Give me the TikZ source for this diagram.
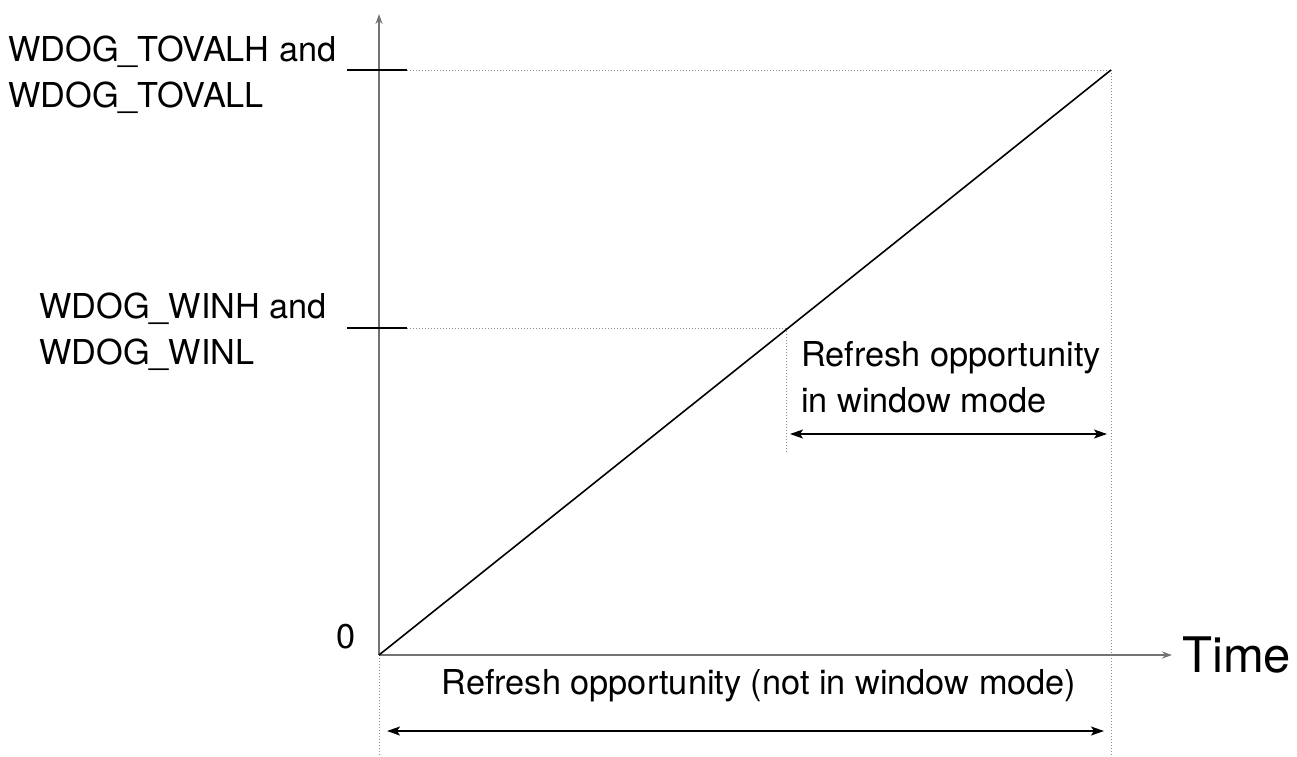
\documentclass[tikz,border=0pt]{standalone}
\usepackage{fontspec}
\setmainfont{TeX Gyre Heros}
\usetikzlibrary{arrows.meta}
\begin{document}
\begin{tikzpicture}[x=1pt,y=-1pt,
  axis/.style={draw=black!55, line width=1.8pt, -{Stealth[length=10pt,width=7pt]}},
  tick/.style={draw=black, line width=1.4pt},
  guide/.style={draw=black!45, line width=1pt, dotted},
  span/.style={draw=black, line width=1.6pt, {Stealth[length=13pt,width=9pt,inset=3pt]}-{Stealth[length=13pt,width=9pt,inset=3pt]}},
  lbl/.style={font=\fontsize{34.3}{46}\selectfont, inner sep=0pt, align=left},
]
\useasboundingbox (0,0) rectangle (1297,756);
% key coordinates
\coordinate (O) at (379,655);
\coordinate (Ytop) at (379,14);
\coordinate (Xend) at (1172,655);
\coordinate (P) at (1111,70);
\coordinate (M) at (786,328);
\coordinate (T1a) at (347,70);
\coordinate (T1b) at (407,70);
\coordinate (T2a) at (347,328);
\coordinate (T2b) at (407,328);
\coordinate (Pbot) at (1111,756);
\coordinate (Obot) at (379,756);
\coordinate (Mbot) at (786,453);
\coordinate (W1) at (790,434);
\coordinate (W2) at (1107,434);
\coordinate (B1) at (387,731);
\coordinate (B2) at (1104,731);
% guides
\draw[guide] (T1b) -- (P);
\draw[guide] (T2b) -- (M);
\draw[guide] (P) -- (Pbot);
\draw[guide] (O) -- (Obot);
\draw[guide] (M) -- (Mbot);
% axes
\draw[axis] (O) -- (Ytop);
\draw[axis] (O) -- (Xend);
% ticks
\draw[tick] (T1a) -- (T1b);
\draw[tick] (T2a) -- (T2b);
% ramp
\draw[black, line width=1.6pt] (O) -- (P);
% spans
\draw[span] (W1) -- (W2);
\draw[span] (B1) -- (B2);
% labels
\node[lbl, anchor=north west] (l1) at (8,36) {WDOG\_TOVALH and\\WDOG\_TOVALL};
\node[lbl, anchor=north west] (l2) at (39,293) {WDOG\_WINH and\\WDOG\_WINL};
\node[lbl, anchor=base east] (zero) at (356,648) {0};
\node[font=\fontsize{49}{58}\selectfont, inner sep=0pt, anchor=base west] (time) at (1182,672) {Time};
\node[lbl, anchor=north west] (l3) at (801,341) {Refresh opportunity\\in window mode};
\node[lbl, anchor=base] (l4) at (759,694) {Refresh opportunity (not in window mode)};
\end{tikzpicture}
\end{document}
